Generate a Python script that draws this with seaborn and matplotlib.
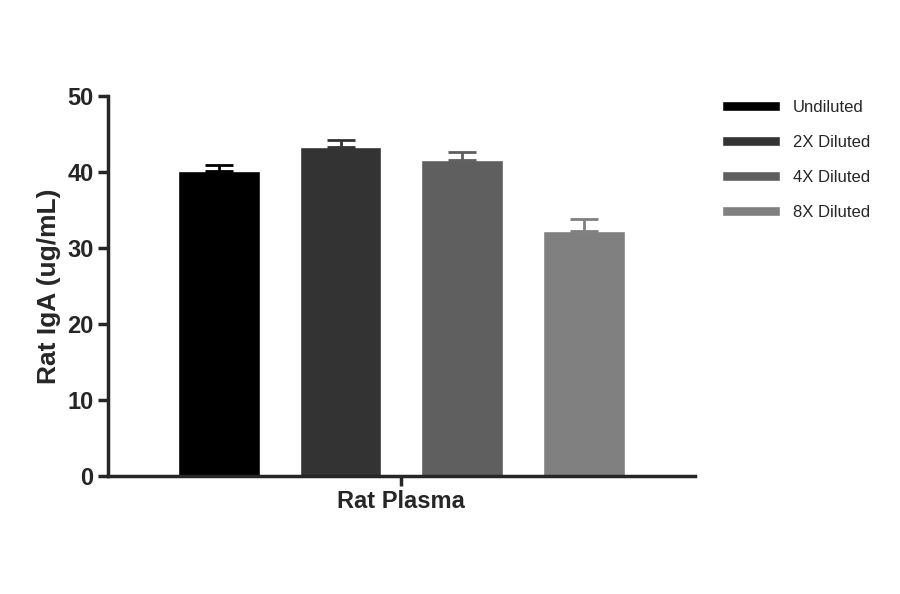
import matplotlib
matplotlib.use("Agg")
import matplotlib.pyplot as plt
import seaborn as sns
import pandas as pd

groups = ["Undiluted", "2X Diluted", "4X Diluted", "8X Diluted"]
values = [40.1, 43.3, 41.6, 32.3]
errors = [0.8, 0.9, 1.0, 1.5]
colors = ["#000000", "#333333", "#5f5f5f", "#808080"]

df = pd.DataFrame({"sample": ["Rat Plasma"] * 4, "group": groups, "value": values})

sns.set_style("ticks")
plt.rcParams["font.family"] = ["Liberation Sans", "DejaVu Sans"]

fig = plt.figure(figsize=(9, 5.94), dpi=100)
ax = fig.add_axes([0.12, 0.199, 0.652, 0.639])
sns.barplot(data=df, x="sample", y="value", hue="group", palette=colors,
            width=0.83, gap=0.33, saturation=1, errorbar=None, ax=ax)

for p, e in zip(ax.patches, errors):
    xc = p.get_x() + p.get_width() / 2
    ax.errorbar(xc, p.get_height(), yerr=[[0], [e]], fmt="none",
                ecolor=p.get_facecolor(), elinewidth=2, capsize=10, capthick=2)

ax.set_xlim(-0.5, 0.5)
ax.set_ylim(0, 50)
ax.set_yticks([0, 10, 20, 30, 40, 50])
for s in ["top", "right"]:
    ax.spines[s].set_visible(False)
for s in ["left", "bottom"]:
    ax.spines[s].set_linewidth(2.5)
ax.tick_params(width=2.5, length=7, labelsize=17)
for lab in ax.get_yticklabels() + ax.get_xticklabels():
    lab.set_fontweight("bold")
ax.set_xlabel("")
ax.set_ylabel("Rat IgA (ug/mL)", fontsize=19, fontweight="bold")

leg = ax.legend(loc="upper left", bbox_to_anchor=(1.02, 1.03), frameon=False,
                fontsize=12, handlelength=3.5, handleheight=0.6, labelspacing=1.2)

fig.savefig("out.png", dpi=100)
